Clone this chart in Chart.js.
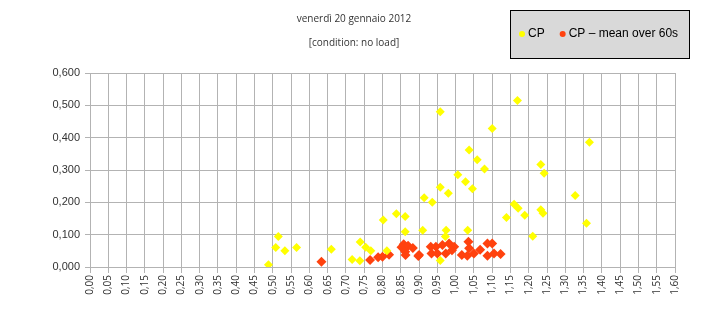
<!DOCTYPE html>
<html>
<head>
<meta charset="utf-8">
<script src="https://cdn.jsdelivr.net/npm/chart.js@4"></script>
<style>
  html, body { margin: 0; padding: 0; background: #fff; }
</style>
</head>
<body>
<canvas id="cp" width="708" height="329"></canvas>
<script>
// CP samples
const cpX = [0.488, 0.515, 0.508, 0.533, 0.565, 0.660, 0.717, 0.738, 0.739, 0.754, 0.768, 0.802, 0.812, 0.838,
  0.862, 0.862, 0.910, 0.914, 0.936, 0.958, 0.958, 0.958, 0.972, 0.974, 0.980, 1.006, 1.027, 1.033, 1.037,
  1.046, 1.059, 1.079, 1.100, 1.139, 1.160, 1.169, 1.171, 1.189, 1.211, 1.233, 1.233, 1.239, 1.242, 1.327,
  1.358, 1.366];
const cpY = [0.007, 0.094, 0.060, 0.050, 0.060, 0.055, 0.023, 0.019, 0.077, 0.061, 0.050, 0.145, 0.050, 0.165,
  0.156, 0.109, 0.114, 0.214, 0.200, 0.480, 0.247, 0.020, 0.094, 0.114, 0.228, 0.285, 0.264, 0.114, 0.362,
  0.242, 0.332, 0.303, 0.428, 0.153, 0.194, 0.515, 0.182, 0.160, 0.095, 0.317, 0.177, 0.166, 0.290, 0.221,
  0.135, 0.386];

// CP - mean over 60s
const meanX = [0.633, 0.766, 0.788, 0.800, 0.818, 0.852, 0.858, 0.863, 0.862, 0.870, 0.883, 0.898, 0.900,
  0.932, 0.934, 0.946, 0.950, 0.964, 0.973, 0.982, 0.996, 0.990, 1.017, 1.035, 1.037, 1.032, 1.050, 1.067,
  1.087, 1.087, 1.100, 1.105, 1.123];
const meanY = [0.016, 0.022, 0.030, 0.032, 0.038, 0.061, 0.070, 0.037, 0.047, 0.066, 0.059, 0.034, 0.037,
  0.063, 0.042, 0.063, 0.042, 0.068, 0.042, 0.073, 0.063, 0.052, 0.037, 0.078, 0.058, 0.035, 0.042, 0.053,
  0.073, 0.035, 0.073, 0.042, 0.040];

const seriesNames = ['CP', 'CP \u2013 mean over 60s'];
const titleText = 'venerdì 20 gennaio 2012';
const subtitleText = '[condition: no load]';

const toPts = (xs, ys) => xs.map((x, i) => ({ x: x, y: ys[i] }));
const comma = (v, d) => v.toFixed(d).replace('.', ',');

// grey legend box in the top right corner
const legendBox = {
  id: 'legendBox',
  afterDraw(chart) {
    const ctx = chart.ctx;
    ctx.save();
    ctx.fillStyle = '#d9d9d9';
    ctx.fillRect(510.5, 10.5, 179, 48);
    ctx.strokeStyle = '#000';
    ctx.lineWidth = 1;
    ctx.strokeRect(510.5, 10.5, 179, 48);
    ctx.font = '12px "Liberation Sans", Arial, sans-serif';
    ctx.textBaseline = 'middle';
    let x = 522;
    chart.data.datasets.forEach(ds => {
      ctx.fillStyle = ds.backgroundColor;
      ctx.beginPath();
      ctx.arc(x, 34, 3, 0, Math.PI * 2);
      ctx.fill();
      ctx.fillStyle = '#000';
      ctx.fillText(ds.label, x + 6, 34);
      x += ctx.measureText(ds.label).width + 24;
    });
    ctx.restore();
  }
};

new Chart(document.getElementById('cp'), {
  type: 'scatter',
  data: {
    datasets: [{
      label: seriesNames[0],
      data: toPts(cpX, cpY),
      backgroundColor: '#ffff00',
      borderColor: '#ffff00',
      pointStyle: 'rectRot',
      pointRadius: 4.5,
      borderWidth: 0
    }, {
      label: seriesNames[1],
      data: toPts(meanX, meanY),
      backgroundColor: '#ff420e',
      borderColor: '#ff420e',
      pointStyle: 'rectRot',
      pointRadius: 5,
      borderWidth: 0
    }]
  },
  options: {
    responsive: false,
    animation: false,
    layout: { padding: 0 },
    plugins: {
      legend: { display: false },
      tooltip: { enabled: false },
      title: {
        display: true,
        text: titleText,
        color: '#333',
        font: { family: '"Open Sans", sans-serif', size: 10, weight: 'normal' },
        padding: { top: 13, bottom: 12 }
      },
      subtitle: {
        display: true,
        text: subtitleText,
        color: '#333',
        font: { family: '"Open Sans", sans-serif', size: 10 },
        padding: { top: 0, bottom: 24 }
      }
    },
    scales: {
      x: {
        type: 'linear',
        min: 0,
        max: 1.6,
        afterFit: s => { s.height = 62; },
        grid: { color: '#b3b3b3', tickLength: 6, tickColor: '#b3b3b3' },
        border: { color: '#b3b3b3' },
        ticks: {
          stepSize: 0.05,
          autoSkip: false,
          maxRotation: 90,
          minRotation: 90,
          padding: 2,
          color: '#333',
          font: { family: '"Open Sans", sans-serif', size: 10 },
          callback: v => comma(v, 2)
        }
      },
      y: {
        min: 0,
        max: 0.6,
        afterFit: s => { s.width = 90; },
        grid: { color: '#b3b3b3', tickLength: 5, tickColor: '#b3b3b3' },
        border: { color: '#b3b3b3' },
        ticks: {
          stepSize: 0.1,
          padding: 5,
          color: '#333',
          font: { family: '"Liberation Sans", Arial, sans-serif', size: 11 },
          callback: v => comma(v, 3)
        }
      },
      // empty right-hand margin so the title stays centred on the page
      yPad: {
        position: 'right',
        grid: { display: false, drawTicks: false },
        border: { display: false },
        ticks: { display: false },
        afterFit: s => { s.width = 33; }
      }
    }
  },
  plugins: [legendBox]
});
</script>
</body>
</html>
